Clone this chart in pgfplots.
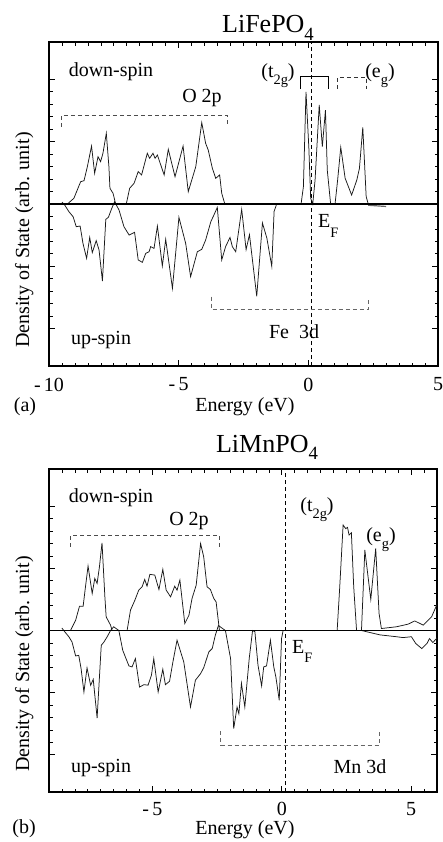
\documentclass[border=0pt]{standalone}
\usepackage{fontspec}
\setmainfont{Liberation Serif}
\usepackage{pgfplots}
\pgfplotsset{compat=1.18}
\newcommand{\sub}[2][0.35em]{\raisebox{-#1}{\scalebox{0.72}{#2}}}
\pgfplotsset{dosstyle/.style={
  scale only axis,
  axis line style={line width=1.4pt},
  tick align=inside,
  tick style={black, line width=0.7pt},
  major tick length=6pt,
  minor tick length=3.5pt,
  ymin=-13, ymax=13,
  ytick={-10,-5,0,5,10}, yticklabels={},
  minor y tick num=4,
  xticklabel style={font=\fontsize{20}{24}\selectfont, yshift=-5pt},
  /pgf/number format/assume math mode=true,
}}
\begin{document}
\fontsize{20}{24}\selectfont
\begin{tikzpicture}
\useasboundingbox (0,0) rectangle (443pt,-842pt);
% ---------------- panel (a)
\begin{axis}[dosstyle, at={(49pt,-366pt)}, anchor=south west,
  width=389pt, height=324pt, xmin=-10, xmax=5,
  xtick={-10,-5,0,5}, xticklabels={-\,10,-\,5,0,5},
  minor x tick num=9]
\addplot[black!90, line width=0.75pt] coordinates {
(-9.29,0) (-9.04,0.46) (-8.78,1.79) (-8.65,1.87) (-8.52,3.0) (-8.36,4.65) (-8.24,2.46) (-8.11,3.8) (-8.01,3.4) (-7.92,4.07) (-7.79,5.67) (-7.69,3.0) (-7.65,1.26) (-7.53,0.86) (-7.43,0) (-7.02,0) (-6.89,1.26) (-6.72,1.66) (-6.56,2.6) (-6.43,2.33) (-6.21,4.07) (-6.12,3.67) (-5.99,4.07) (-5.91,3.67) (-5.82,3.93) (-5.56,2.33) (-5.40,4.39) (-5.14,2.19) (-4.83,4.65) (-4.63,0.99) (-4.34,3.0) (-4.11,6.53) (-3.96,4.87) (-3.86,4.33) (-3.70,2.86) (-3.57,2.06) (-3.42,2.33) (-3.34,0.86) (-3.22,0) (-0.28,0) (-0.19,1.39) (-0.09,9.0) (0.02,4.5) (0.09,0.46) (0.17,0) (0.26,1.93) (0.42,7.95) (0.54,4.6) (0.66,7.54) (0.73,2.73) (0.86,0) (1.03,0) (1.13,1.93) (1.25,4.55) (1.42,2.06) (1.67,0.72) (1.87,1.93) (1.97,2.86) (2.10,6.15) (2.23,0.59) (2.31,0)
};
\addplot[black!90, line width=0.75pt] coordinates {
(-9.5,0.15) (-9.42,0) (-9.23,-0.62) (-9.07,-1.02) (-8.95,-1.82) (-8.80,-1.77) (-8.69,-3.16) (-8.55,-4.36) (-8.43,-2.68) (-8.33,-3.9) (-8.18,-2.94) (-8.07,-3.69) (-7.94,-6.18) (-7.81,-1.23) (-7.71,-1.07) (-7.58,-0.35) (-7.47,0.18) (-7.30,-0.48) (-7.11,-1.82) (-6.91,-2.49) (-6.70,-2.27) (-6.56,-4.49) (-6.40,-4.68) (-6.27,-3.96) (-6.14,-3.83) (-6.08,-3.42) (-5.95,-3.56) (-5.82,-1.77) (-5.63,-4.98) (-5.50,-2.83) (-5.24,-6.77) (-4.99,-1.07) (-4.73,-3.16) (-4.54,-5.83) (-4.28,-3.83) (-4.11,-3.64) (-3.96,-2.89) (-3.76,-1.42) (-3.64,-0.88) (-3.51,-0.27) (-3.34,-4.49) (-3.19,-3.42) (-3.02,-2.68) (-2.93,-3.42) (-2.80,-3.83) (-2.57,-0.43) (-2.40,-3.66) (-2.27,-2.46) (-1.99,-7.41) (-1.77,-1.52) (-1.60,-2.73) (-1.41,-5.0) (-1.32,-0.59) (-1.22,0)
};
\addplot[black!60, line width=1.2pt] coordinates {(2.31,-0.1) (3.0,-0.2)};
\addplot[black, line width=1.4pt] coordinates {(-10,0) (5,0)};
\addplot[black, line width=0.8pt, dash pattern=on 4pt off 3pt] coordinates {(0.1,-13) (0.1,13)};
\draw[black!70, line width=0.7pt, dash pattern=on 4pt off 3pt] (axis cs:-9.53,6.18) -- (axis cs:-9.53,7.09) -- (axis cs:-3.13,7.09) -- (axis cs:-3.13,6.18);
\draw[black, line width=0.8pt] (axis cs:-0.29,9.25) -- (axis cs:-0.29,10.2) -- (axis cs:0.79,10.2) -- (axis cs:0.79,9.25);
\draw[black!80, line width=0.7pt, dash pattern=on 4pt off 3pt] (axis cs:1.13,9.25) -- (axis cs:1.13,10.2) -- (axis cs:2.23,10.2) -- (axis cs:2.23,9.25);
\draw[black!60, line width=0.7pt, dash pattern=on 4pt off 3pt] (axis cs:-3.75,-7.44) -- (axis cs:-3.75,-8.43) -- (axis cs:2.31,-8.43) -- (axis cs:2.31,-7.44);
\end{axis}
% ---------------- panel (b)
\begin{axis}[dosstyle, at={(49pt,-792pt)}, anchor=south west,
  width=388pt, height=323pt, xmin=-9, xmax=6,
  xtick={-5,0,5}, xticklabels={-\,5,0,5},
  xticklabel style={yshift=1.5pt},
  minor xtick={-9,-8.5,...,6}]
\addplot[black!90, line width=0.75pt] coordinates {
(-8.17,0) (-7.97,0.83) (-7.82,1.96) (-7.68,1.96) (-7.59,3.52) (-7.49,5.19) (-7.33,2.98) (-7.23,4.19) (-7.14,3.79) (-7.05,5.13) (-6.95,7.06) (-6.84,2.71) (-6.79,1.1) (-6.62,0.43) (-6.56,0) (-5.98,0) (-5.85,1.64) (-5.68,2.44) (-5.53,3.25) (-5.40,3.52) (-5.30,4.11) (-5.21,3.57) (-5.10,4.52) (-4.91,4.46) (-4.75,3.3) (-4.60,4.92) (-4.47,3.25) (-4.30,2.71) (-4.14,3.57) (-4.05,3.25) (-3.94,4.06) (-3.75,0.56) (-3.59,1.23) (-3.47,2.58) (-3.31,3.65) (-3.14,7.0) (-3.02,5.94) (-2.89,3.52) (-2.76,3.3) (-2.63,2.58) (-2.54,2.3) (-2.41,0) (2.14,0) (2.24,3.52) (2.37,8.49) (2.47,8.2) (2.54,8.3) (2.60,7.69) (2.69,7.87) (2.78,3.52) (2.89,0) (3.08,0) (3.21,6.48) (3.44,2.5) (3.63,6.61) (3.76,1.37) (3.85,0.16) (4.43,0.3) (4.88,0.51) (5.14,0.77) (5.47,0.43) (5.79,1.1) (6,2.1)
};
\addplot[black!90, line width=0.75pt] coordinates {
(-8.5,0.2) (-8.43,0) (-8.23,-0.51) (-8.11,-0.92) (-7.97,-2.05) (-7.85,-2.0) (-7.76,-3.06) (-7.65,-4.95) (-7.53,-3.01) (-7.39,-4.41) (-7.29,-3.93) (-7.14,-7.05) (-6.98,-1.19) (-6.88,-0.94) (-6.75,-0.5) (-6.62,0) (-6.5,0.3) (-6.30,0) (-6.15,-1.59) (-5.91,-2.85) (-5.79,-2.93) (-5.66,-2.26) (-5.50,-4.55) (-5.33,-4.36) (-5.17,-4.4) (-5.04,-3.6) (-4.95,-2.26) (-4.78,-4.95) (-4.60,-3.12) (-4.50,-4.36) (-4.34,-4.09) (-4.21,-2.53) (-4.05,-0.78) (-3.79,-2.53) (-3.53,-6.16) (-3.34,-4.0) (-3.14,-3.47) (-3.02,-3.0) (-2.82,-1.72) (-2.69,-1.45) (-2.57,-0.38) (-2.45,0.4) (-2.18,0) (-1.98,-2.26) (-1.86,-7.9) (-1.73,-6.16) (-1.66,-6.7) (-1.56,-4.25) (-1.43,-6.16) (-1.26,-2.26) (-1.13,0) (-1.04,-0.1) (-0.92,-2.8) (-0.78,-4.46) (-0.70,-2.93) (-0.59,-2.85) (-0.44,-0.78) (-0.31,-2.93) (-0.23,-3.73) (-0.10,-5.62) (-0.01,-0.65) (0.05,0) (3.08,0) (3.79,-0.35) (4.43,-0.5) (4.69,-0.57) (5.01,-0.5) (5.18,-1.05) (5.41,-1.45) (5.61,-1.05) (5.71,-0.65) (5.84,-0.97) (6,-0.6)
};
\addplot[black, line width=1.4pt] coordinates {(-9,0) (6,0)};
\addplot[black, line width=0.8pt, dash pattern=on 4pt off 3pt] coordinates {(0.13,-13) (0.13,13)};
\draw[black!70, line width=0.7pt, dash pattern=on 4pt off 3pt] (axis cs:-8.17,6.74) -- (axis cs:-8.17,7.63) -- (axis cs:-2.40,7.63) -- (axis cs:-2.40,6.74);
\draw[black!60, line width=0.7pt, dash pattern=on 4pt off 3pt] (axis cs:-2.36,-8.12) -- (axis cs:-2.36,-9.25) -- (axis cs:3.76,-9.25) -- (axis cs:3.76,-8.12);
\end{axis}
% ---------------- text (a)
\node[anchor=base, font=\fontsize{26}{30}\selectfont] at (268pt,-33pt) {LiFePO\sub[0.3em]{4}};
\node[anchor=base] at (111pt,-77pt) {down-spin};
\node[anchor=base] at (202pt,-103pt) {O 2p};
\node[anchor=base] at (278pt,-78pt) {(t\sub{2g})};
\node[anchor=base] at (380pt,-78pt) {(e\sub{g})};
\node[anchor=base west, inner sep=0pt] at (318pt,-228pt) {E\sub[0.45em]{F}};
\node[anchor=base] at (294pt,-338pt) {Fe~~3d};
\node[anchor=base] at (101pt,-344pt) {up-spin};
\node[anchor=base] at (25pt,-411pt) {(a)};
\node[anchor=base] at (245pt,-411pt) {Energy (eV)};
\node[rotate=90, anchor=base] at (29pt,-240pt) {Density of State (arb. unit)};
% ---------------- text (b)
\node[anchor=base, font=\fontsize{26}{30}\selectfont] at (267pt,-452pt) {LiMnPO\sub[0.3em]{4}};
\node[anchor=base] at (111pt,-502pt) {down-spin};
\node[anchor=base] at (189pt,-525pt) {O 2p};
\node[anchor=base] at (317pt,-511pt) {(t\sub{2g})};
\node[anchor=base] at (381pt,-541pt) {(e\sub{g})};
\node[anchor=base west, inner sep=0pt] at (292pt,-653pt) {E\sub[0.45em]{F}};
\node[anchor=base] at (360pt,-773pt) {Mn 3d};
\node[anchor=base] at (101pt,-772pt) {up-spin};
\node[anchor=base] at (24pt,-833pt) {(b)};
\node[anchor=base] at (245pt,-834pt) {Energy (eV)};
\node[rotate=90, anchor=base] at (29pt,-664pt) {Density of State (arb. unit)};
\end{tikzpicture}
\end{document}
